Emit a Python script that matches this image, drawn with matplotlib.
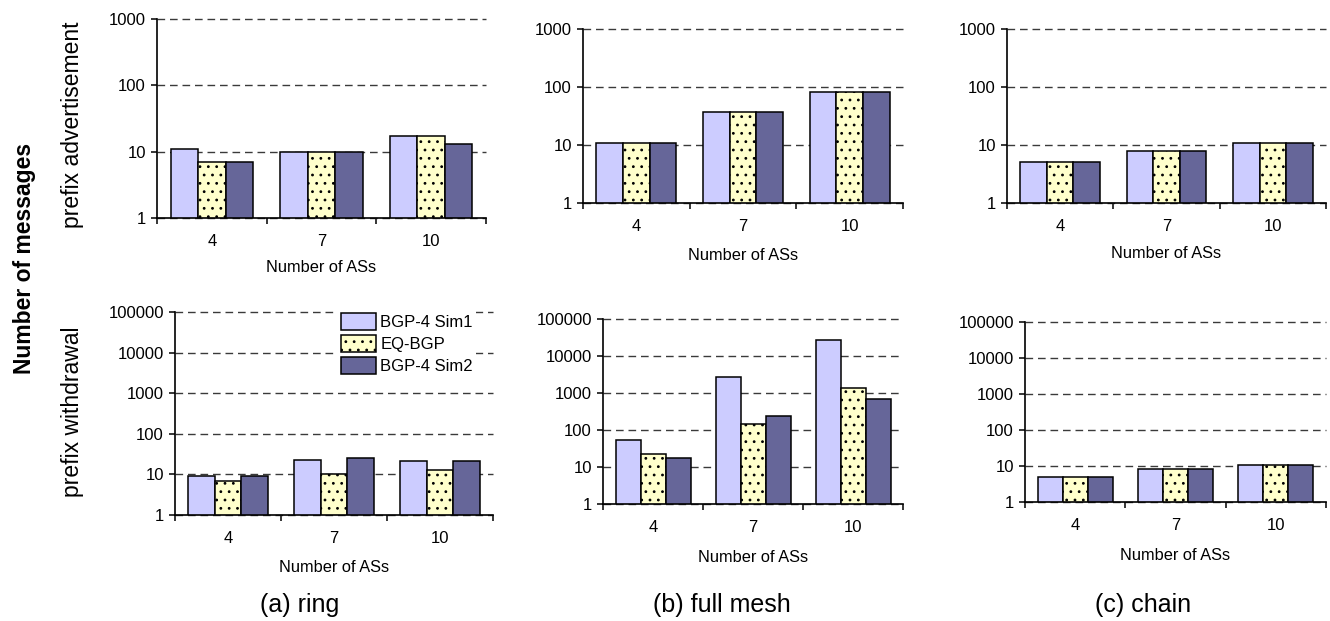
import numpy as np
import matplotlib
matplotlib.use("Agg")
import matplotlib.pyplot as plt

plt.rcParams['font.family'] = ['Liberation Sans', 'DejaVu Sans']
plt.rcParams['hatch.linewidth'] = 0.8

cats = ['4', '7', '10']
series = ['BGP-4 Sim1', 'EQ-BGP', 'BGP-4 Sim2']
colors = ['#CCCCFF', '#FFFFCC', '#666699']
hatches = ['', '..', '']

# prefix advertisement (sim1, eq, sim2)
ring_adv = [[11, 10, 17], [7, 10, 17], [7, 10, 13]]
mesh_adv = [[11, 37, 81], [11, 37, 81], [11, 37, 81]]
chain_adv = [[5, 8, 11], [5, 8, 11], [5, 8, 11]]
# prefix withdrawal
ring_wd = [[9, 22, 21], [7, 10, 13], [9, 25, 21]]
mesh_wd = [[54, 2700, 27500], [23, 145, 1390], [17, 240, 690]]
chain_wd = [[5, 8, 11], [5, 8, 11], [5, 8, 11]]

adv_ticks = [1, 10, 100, 1000]
wd_ticks = [1, 10, 100, 1000, 10000, 100000]

captions = ['(a) ring', '(b) full mesh', '(c) chain']

W, H = 1330, 621
fig = plt.figure(figsize=(W / 100, H / 100), dpi=100)


def panel(box, data, yticks, xlab_y):
    l, t, r, b = box
    ax = fig.add_axes([l / W, 1 - b / H, (r - l) / W, (b - t) / H])
    x = np.arange(len(cats))
    for i in range(3):
        ax.bar(x + (i - 1) * 0.25, data[i], 0.25, color=colors[i], hatch=hatches[i],
               edgecolor='black', linewidth=1.1, label=series[i], zorder=2)
    ax.set_yscale('log')
    ax.set_ylim(yticks[0], yticks[-1])
    ax.set_xlim(-0.5, 2.5)
    ax.set_yticks(yticks)
    ax.set_yticklabels([str(v) for v in yticks])
    ax.yaxis.set_minor_locator(matplotlib.ticker.NullLocator())
    ax.set_xticks([-0.5, 0.5, 1.5, 2.5])
    ax.set_xticklabels([])
    ax.set_xticks(x, minor=True)
    ax.set_xticklabels(cats, minor=True)
    ax.tick_params(axis='x', which='major', length=4, width=1.1, direction='out')
    ax.tick_params(axis='x', which='minor', length=0, pad=11.5, labelsize=12)
    ax.tick_params(axis='y', length=4, width=1.1, pad=4, labelsize=12)
    for s in ['top', 'right']:
        ax.spines[s].set_visible(False)
    for s in ['left', 'bottom']:
        ax.spines[s].set_linewidth(1.2)
    ax.yaxis.grid(True, which='major', color='#3a3a3a', linestyle=(0, (5.5, 3.5)), linewidth=1.0)
    for gl in ax.get_ygridlines():
        gl.set_clip_on(False)
    ax.set_axisbelow(True)
    ax.set_xlabel('Number of ASs', fontsize=11.8)
    ax.xaxis.set_label_coords(0.5, 1 - (xlab_y - t) / (b - t))
    ax.xaxis.label.set_va('center')
    return ax


panel((157, 19, 486, 218), ring_adv, adv_ticks, 268)
panel((583, 29, 903, 203), mesh_adv, adv_ticks, 255)
panel((1007, 29, 1326, 203), chain_adv, adv_ticks, 254)
ax_ring_wd = panel((175, 312, 493, 515), ring_wd, wd_ticks, 567)
panel((603, 319, 903, 504), mesh_wd, wd_ticks, 558)
panel((1025, 322, 1326, 502), chain_wd, wd_ticks, 556)

leg = ax_ring_wd.legend(loc='upper left', bbox_to_anchor=(338 / W, 1 - 310 / H),
                        bbox_transform=fig.transFigure, fontsize=12,
                        handlelength=2.1, handleheight=1.2, handletextpad=0.3,
                        labelspacing=0.3, borderpad=0.15, borderaxespad=0,
                        fancybox=False, framealpha=1)
leg.get_frame().set_edgecolor('white')
leg.get_frame().set_linewidth(0)

fig.text(25 / W, 1 - 258 / H, 'Number of messages', rotation=90, fontsize=16.5,
         fontweight='bold', ha='center', va='center')
fig.text(72 / W, 1 - 125 / H, 'prefix advertisement', rotation=90, fontsize=16.5,
         ha='center', va='center')
fig.text(72 / W, 1 - 412 / H, 'prefix withdrawal', rotation=90, fontsize=16.5,
         ha='center', va='center')

for cx, cap in zip([300, 722, 1143], captions):
    fig.text(cx / W, 1 - 605 / H, cap, fontsize=18, ha='center', va='center')

fig.savefig('out.png', dpi=100)
